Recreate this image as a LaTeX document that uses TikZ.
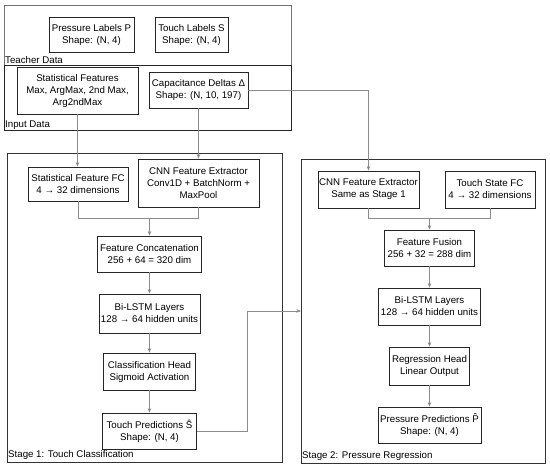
\documentclass[tikz,border=0pt]{standalone}
\usepackage{fontspec}
\setmainfont{Liberation Sans}
\usetikzlibrary{arrows.meta}
\begin{document}
\begin{tikzpicture}[x=1pt,y=-1pt,
  every node/.style={font=\fontsize{9.7}{12}\selectfont},
  box/.style={draw=black!85, line width=0.8pt, fill=white, align=center, inner sep=0pt},
  cluster/.style={draw, line width=0.8pt, inner sep=0pt, anchor=north west},
  clabel/.style={anchor=west, inner sep=0pt},
  arr/.style={draw=black!45, line width=0.6pt, -{Stealth[length=4.5pt,width=3.5pt,fill=black!80]}},
  ln/.style={draw=black!45, line width=0.6pt}]
\useasboundingbox (0,0) rectangle (550,468);
% clusters
\node[cluster, draw=black!55, minimum width=287, minimum height=60] (teacher) at (4,5) {};
\node[cluster, draw=black!85, minimum width=287, minimum height=65] (input) at (4,65) {};
\node[cluster, draw=black!80, minimum width=275, minimum height=309] (stage1) at (7,153) {};
\node[cluster, draw=black!80, minimum width=244, minimum height=304] (stage2) at (301,159) {};
\node[clabel] (tlab) at (5,60) {Teacher Data};
\node[clabel] (ilab) at (5,125) {Input Data};
\node[clabel] (s1lab) at (8,455) {Stage 1: Touch Classification};
\node[clabel] (s2lab) at (302,456) {Stage 2: Pressure Regression};
% teacher / input nodes
\node[box, minimum width=85, minimum height=35] (pl) at (91.5,34.5) {Pressure Labels P\\Shape: (N, 4)};
\node[box, minimum width=73, minimum height=35] (tl) at (191.5,34.5) {Touch Labels S\\Shape: (N, 4)};
\node[box, minimum width=121, minimum height=47] (sf) at (77.5,90.5) {Statistical Features\\Max, ArgMax, 2nd Max,\\Arg2ndMax};
\node[box, minimum width=99, minimum height=36] (cd) at (198.5,90) {Capacitance Deltas Δ\\Shape: (N, 10, 197)};
% stage 1
\node[box, minimum width=100, minimum height=34] (sfc) at (78,184) {Statistical Feature FC\\4 → 32 dimensions};
\node[box, minimum width=121, minimum height=48] (cnn1) at (198.5,183) {CNN Feature Extractor\\Conv1D + BatchNorm +\\MaxPool};
\node[box, minimum width=104, minimum height=36] (concat) at (149.5,254) {Feature Concatenation\\256 + 64 = 320 dim};
\node[box, minimum width=101, minimum height=39] (bl1) at (149.5,313.5) {Bi-LSTM Layers\\128 → 64 hidden units};
\node[box, minimum width=92, minimum height=37] (ch) at (149.5,371.5) {Classification Head\\Sigmoid Activation};
\node[box, minimum width=94, minimum height=36] (tp) at (149.5,431) {Touch Predictions Ŝ\\Shape: (N, 4)};
% stage 2
\node[box, minimum width=101, minimum height=37] (cnn2) at (368.5,189.5) {CNN Feature Extractor\\Same as Stage 1};
\node[box, minimum width=90, minimum height=37] (tsf) at (490,189.5) {Touch State FC\\4 → 32 dimensions};
\node[box, minimum width=90, minimum height=36] (ff) at (429.5,248) {Feature Fusion\\256 + 32 = 288 dim};
\node[box, minimum width=102, minimum height=37] (bl2) at (429.5,306.5) {Bi-LSTM Layers\\128 → 64 hidden units};
\node[box, minimum width=80, minimum height=38] (rh) at (429.5,366) {Regression Head\\Linear Output};
\node[box, minimum width=103, minimum height=36] (pp) at (429.5,425) {Pressure Predictions P̂\\Shape: (N, 4)};
% connectors
\coordinate (m1) at (149.5,218);
\coordinate (m2) at (429.5,218);
\coordinate (bend) at (247,311);
\draw[arr] (sf) -- (sf |- sfc.north);
\draw[arr] (cd) -- (cnn1);
\draw[arr] (cd.east) -| (cnn2.north);
\draw[ln] (sfc.south) |- (m1);
\draw[ln] (cnn1.south) |- (m1);
\draw[arr] (m1) -- (concat);
\draw[arr] (concat) -- (bl1);
\draw[arr] (bl1) -- (ch);
\draw[arr] (ch) -- (tp);
\draw[arr] (tp.east) -| (bend) -- (bend -| stage2.west);
\draw[ln] (cnn2.south) |- (m2);
\draw[ln] (tsf.south) |- (m2);
\draw[arr] (m2) -- (ff);
\draw[arr] (ff) -- (bl2);
\draw[arr] (bl2) -- (rh);
\draw[arr] (rh) -- (pp);
\end{tikzpicture}
\end{document}
